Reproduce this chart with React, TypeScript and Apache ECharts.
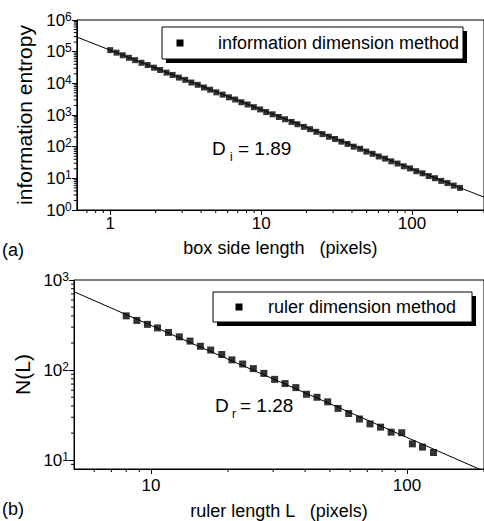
import React, { useEffect, useRef } from "react";
import * as echarts from "echarts";

// ---- panel (a): information dimension ----
const topX = [1, 1.1, 1.21, 1.33, 1.46, 1.61, 1.77, 1.95, 2.14, 2.36, 2.59, 2.85, 3.14, 3.45, 3.8, 4.18, 4.59, 5.05, 5.56, 6.12, 6.73, 7.4, 8.14, 8.95, 9.85, 10.8, 11.9, 13.1, 14.4, 15.9, 17.4, 19.2, 21.1, 23.2, 25.5, 28.1, 30.9, 34, 37.4, 41.1, 45.3, 49.8, 54.8, 60.2, 66.3, 72.9, 80.2, 88.2, 97, 106.7, 117.4, 129.1, 142, 156.2, 171.8, 189, 207.9];
const topY = [112000, 93000, 77000, 64000, 54000, 44500, 37800, 31200, 26400, 21800, 18400, 15200, 12900, 10600, 9000, 7400, 6300, 5200, 4400, 3620, 3080, 2530, 2150, 1770, 1500, 1240, 1050, 865, 735, 605, 512, 422, 358, 295, 250, 206, 175, 144, 122, 100, 86, 70, 59.5, 49, 42, 34.5, 29.3, 24, 20.6, 16.8, 14.4, 11.8, 10.1, 8.3, 7.1, 5.9, 5.0];
const topFitX = [0.6, 300];
const topFitY = [290000, 2.55];
const topXRange = [0.6, 300];
const topYRange = [1, 1000000];
const topMinorX = [0.7, 0.8, 0.9, 2, 3, 4, 5, 6, 7, 8, 9, 20, 30, 40, 50, 60, 70, 80, 90, 200, 300];
const topDecades = [1, 10, 100, 1000, 10000, 100000];

// ---- panel (b): ruler dimension ----
const botX = [8, 8.8, 9.68, 10.6, 11.7, 12.9, 14.2, 15.6, 17.1, 18.9, 20.7, 22.8, 25.1, 27.6, 30.4, 33.4, 36.8, 40.5, 44.5, 49, 53.8, 59.2, 65.2, 71.7, 78.8, 86.7, 95.4, 105, 115, 127];
const botY = [400, 356, 322, 294, 262, 234, 210, 184, 167, 149, 130, 117, 104, 92, 79, 71, 64, 54, 50, 44.5, 37.6, 33, 28.7, 25.3, 23.3, 20.5, 20.2, 15.2, 14.0, 12.2];
const botFitX = [5, 200];
const botFitY = [741, 7.57];
const botXRange = [5, 200];
const botYRange = [8, 1000];
const botMinorX = [6, 7, 8, 9, 20, 30, 40, 50, 60, 70, 80, 90, 200];
const botMinorY = [9, 20, 30, 40, 50, 60, 70, 80, 90, 200, 300, 400, 500, 600, 700, 800, 900];

const topMinorY: number[] = [];
topDecades.forEach((d) => [2, 3, 4, 5, 6, 7, 8, 9].forEach((m) => topMinorY.push(m * d)));

const FONT = "Liberation Sans";
const BLACK = "#000";

function supLabel(v: number) {
  const e = Math.round(Math.log10(v));
  return `{b|10}{s|${e}}`;
}

const supRich = {
  b: { fontSize: 17, fontFamily: FONT, color: BLACK, lineHeight: 19 },
  s: { fontSize: 12, fontFamily: FONT, color: BLACK, lineHeight: 12, verticalAlign: "top" },
};

function minorSeries(values: number[], dir: "x" | "y", idx: number, fixed: number) {
  return {
    type: "custom",
    xAxisIndex: idx,
    yAxisIndex: idx,
    clip: false,
    silent: true,
    z: 5,
    data: values.map((v) => (dir === "x" ? [v, fixed] : [fixed, v])),
    renderItem: (_p: any, api: any) => {
      const p = api.coord([api.value(0), api.value(1)]);
      const shape =
        dir === "x"
          ? { x1: p[0], y1: p[1], x2: p[0], y2: p[1] + 3 }
          : { x1: p[0] - 3, y1: p[1], x2: p[0], y2: p[1] };
      return { type: "line", shape, style: { stroke: BLACK, lineWidth: 1 } };
    },
  };
}

function xAxisCfg(range: number[], idx: number, name: string, gap: number, margin: number) {
  return {
    type: "log",
    gridIndex: idx,
    min: range[0],
    max: range[1],
    logBase: 10,
    name,
    nameLocation: "middle",
    nameGap: gap,
    nameTextStyle: { fontSize: 18, fontFamily: FONT, color: BLACK, verticalAlign: "middle" },
    axisLine: { show: true, lineStyle: { color: BLACK, width: 1 } },
    axisTick: { show: true, length: 5, lineStyle: { color: BLACK } },
    axisLabel: {
      fontSize: 17,
      fontFamily: FONT,
      color: BLACK,
      margin,
      showMinLabel: false,
      showMaxLabel: false,
      formatter: (v: number) => String(Math.round(v)),
    },
    splitLine: { show: false },
    minorTick: { show: false },
  };
}

function yAxisCfg(range: number[], idx: number, name: string, gap: number, showMin: boolean) {
  return {
    type: "log",
    gridIndex: idx,
    min: range[0],
    max: range[1],
    logBase: 10,
    name,
    nameLocation: "middle",
    nameGap: gap,
    nameTextStyle: { fontSize: 21, fontFamily: FONT, color: BLACK, verticalAlign: "middle" },
    axisLine: { show: true, lineStyle: { color: BLACK, width: 1 } },
    axisTick: { show: true, length: 5, lineStyle: { color: BLACK } },
    axisLabel: {
      margin: 5,
      showMinLabel: showMin,
      formatter: supLabel,
      rich: supRich,
    },
    splitLine: { show: false },
  };
}

function legendBox(x: number, y: number, w: number, h: number, label: string, symX: number, textX: number) {
  return {
    type: "group",
    children: [
      { type: "rect", shape: { x: x + 4, y: y + 4, width: w, height: h }, style: { fill: BLACK } },
      { type: "rect", shape: { x, y, width: w, height: h }, style: { fill: "#fff", stroke: BLACK, lineWidth: 1 } },
      { type: "rect", shape: { x: symX - 3.5, y: y + h / 2 - 3.5, width: 7, height: 7 }, style: { fill: BLACK } },
      {
        type: "text",
        x: textX,
        y: y + h / 2,
        style: { text: label, fontSize: 18, fontFamily: FONT, fill: BLACK, verticalAlign: "middle", align: "left" },
      },
    ],
  };
}

function txt(x: number, y: number, text: string, size: number) {
  return {
    type: "text",
    x,
    y,
    style: { text, fontSize: size, fontFamily: FONT, fill: BLACK, verticalAlign: "middle", align: "left" },
  };
}

export default function App() {
  const ref = useRef<HTMLDivElement>(null);
  useEffect(() => {
    if (!ref.current) return;
    const chart = echarts.init(ref.current, undefined, { renderer: "svg" });
    const option: any = {
      animation: false,
      backgroundColor: "#fff",
      grid: [
        { left: 76.8, top: 20, width: 413, height: 190, show: true, borderColor: BLACK, borderWidth: 1, backgroundColor: "transparent" },
        { left: 74, top: 280, width: 416, height: 190.5, show: true, borderColor: BLACK, borderWidth: 1, backgroundColor: "transparent" },
      ],
      xAxis: [
        xAxisCfg(topXRange, 0, "box side length   (pixels)", 38, 5),
        xAxisCfg(botXRange, 1, "ruler length L   (pixels)", 42, 8),
      ],
      yAxis: [
        yAxisCfg(topYRange, 0, "information entropy", 50, true),
        yAxisCfg(botYRange, 1, "N(L)", 51, false),
      ],
      series: [
        {
          name: "information dimension method",
          type: "scatter",
          xAxisIndex: 0,
          yAxisIndex: 0,
          symbol: "rect",
          symbolSize: 6,
          itemStyle: { color: BLACK },
          data: topX.map((x, i) => [x, topY[i]]),
          z: 3,
        },
        {
          name: "fit a",
          type: "line",
          xAxisIndex: 0,
          yAxisIndex: 0,
          showSymbol: false,
          symbol: "none",
          lineStyle: { color: BLACK, width: 1 },
          data: topFitX.map((x, i) => [x, topFitY[i]]),
          z: 2,
        },
        {
          name: "ruler dimension method",
          type: "scatter",
          xAxisIndex: 1,
          yAxisIndex: 1,
          symbol: "rect",
          symbolSize: 7,
          itemStyle: { color: BLACK },
          data: botX.map((x, i) => [x, botY[i]]),
          z: 3,
        },
        {
          name: "fit b",
          type: "line",
          xAxisIndex: 1,
          yAxisIndex: 1,
          showSymbol: false,
          symbol: "none",
          lineStyle: { color: BLACK, width: 1 },
          data: botFitX.map((x, i) => [x, botFitY[i]]),
          z: 2,
        },
        minorSeries(topMinorX, "x", 0, topYRange[0]),
        minorSeries(topMinorY, "y", 0, topXRange[0]),
        minorSeries(botMinorX, "x", 1, botYRange[0]),
        minorSeries(botMinorY, "y", 1, botXRange[0]),
      ],
      graphic: [
        legendBox(162, 27, 301, 32, "information dimension method", 180, 218),
        legendBox(213, 292, 259, 30, "ruler dimension method", 239, 268),
        txt(212, 148, "D", 19),
        txt(230, 157, "i", 12),
        txt(238, 148, "= 1.89", 19),
        txt(215, 405, "D", 19),
        txt(232, 414, "r", 12),
        txt(240, 405, "= 1.28", 19),
        txt(2, 250, "(a)", 18),
        txt(2, 509, "(b)", 18),
      ],
    };
    chart.setOption(option);
    return () => chart.dispose();
  }, []);
  return (
    <div
      ref={ref}
      style={{ position: "fixed", left: 0, top: 0, width: 484, height: 521, background: "#fff" }}
    />
  );
}
